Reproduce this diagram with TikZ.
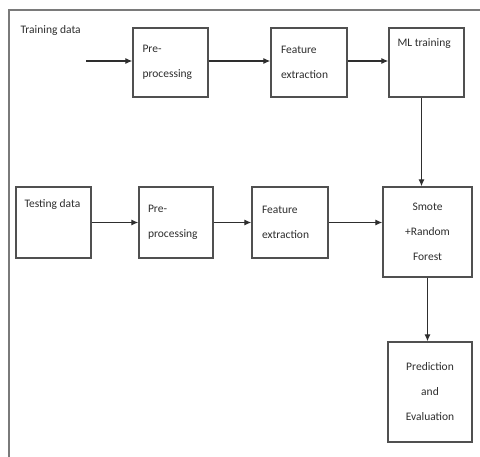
\documentclass[tikz,border=0pt]{standalone}
\usepackage{fontspec}
\setmainfont{Carlito}
\usepackage{tikz}
\usetikzlibrary{arrows,arrows.meta}

\definecolor{txtgrey}{HTML}{2E2E2E}
\definecolor{boxgrey}{HTML}{505050}
\definecolor{framegrey}{HTML}{7A7A7A}

\tikzset{
  blk/.style={draw=boxgrey, line width=1.3pt, inner xsep=9pt, inner ysep=0pt,
    text width=56pt, align=left, text=txtgrey,
    font=\fontsize{11.5}{25}\selectfont},
  ctrblk/.style={blk, align=center},
  toplbl/.style={anchor=north west, inner xsep=9pt, inner ysep=11pt,
    text=txtgrey, font=\fontsize{11.5}{25}\selectfont},
  arr/.style={-{Latex[length=7pt,width=6pt]}, draw=txtgrey, line width=1.2pt}
}

\begin{document}
\begin{tikzpicture}[x=1pt, y=-1pt]
\clip (0,0) rectangle (480,457);
\fill[white] (0,0) rectangle (480,457);
\draw[framegrey, line width=1.8pt] (9,10) rectangle (500,480);

\draw (17,30) node (train) [anchor=west, text=txtgrey, font=\fontsize{11.5}{25}\selectfont] {Training data};
\coordinate (trainin) at (86,61);
\draw (170.5,62.5) node (pre1) [blk, minimum width=75pt, minimum height=69pt] {Pre-\\processing};
\draw (309,62.5) node (feat1) [blk, minimum width=76pt, minimum height=69pt] {Feature\\extraction};
\draw (426.5,62.5) node (ml) [blk, minimum width=75pt, minimum height=69pt,
  label={[toplbl]north west:ML training}] {};
\draw (trainin) -- (trainin -| pre1.west) [arr];
\draw (pre1.east |- trainin) -- (feat1.west |- trainin) [arr];
\draw (feat1.east |- trainin) -- (ml.west |- trainin) [arr];

\draw (53.5,222.5) node (test) [blk, minimum width=75pt, minimum height=71pt,
  label={[toplbl, inner ysep=13pt]north west:Testing data}] {};
\draw (176,222.5) node (pre2) [blk, minimum width=74pt, minimum height=71pt] {Pre-\\processing};
\draw (290,222.5) node (feat2) [blk, minimum width=76pt, minimum height=71pt] {Feature\\extraction};
\draw (427.5,232) node (smote) [ctrblk, text width=70pt, minimum width=89pt, minimum height=90pt] {Smote\\+Random\\Forest};
\draw (430,392) node (pred) [ctrblk, text width=66pt, minimum width=84pt, minimum height=100pt] {Prediction\\and\\Evaluation};
\draw (test.east) -- (pre2.west) [arr];
\draw (pre2.east) -- (feat2.west) [arr];
\draw (feat2.east) -- (feat2.east -| smote.west) [arr];

\draw ([xshift=-5pt]ml.south) -- ([xshift=-5pt]ml.south |- smote.north) [arr];
\draw (smote.south) -- (smote.south |- pred.north) [arr];
\end{tikzpicture}
\end{document}
